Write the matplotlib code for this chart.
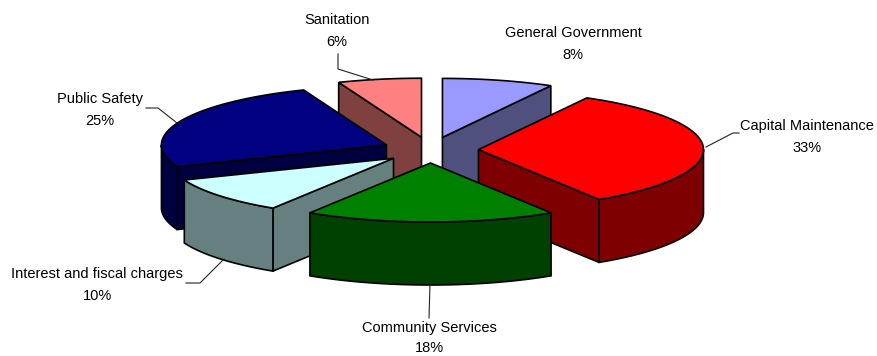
import numpy as np
import matplotlib
matplotlib.use("Agg")
import matplotlib.pyplot as plt
from matplotlib.patches import Polygon

categories = ["General Government", "Capital Maintenance", "Community Services",
              "Interest and fiscal charges", "Public Safety", "Sanitation"]
percent = [8, 33, 18, 10, 25, 6]
top_colors = ["#9999FF", "#FF0000", "#008000", "#CCFFFF", "#000080", "#FF8080"]
wall_colors = ["#50507F", "#7F0000", "#004000", "#668080", "#000040", "#7F4040"]

# back slices first, front slices last
draw_order = [5, 0, 4, 1, 3, 2]

# label centres and leader lines, in pixels
label_pos = [(573, 33), (807, 126), (429, 328), (97, 274), (100, 99), (337, 20)]
pct_gap = [22, 22, 20, 22, 22, 22]
leaders = [
    None,
    [(706, 147), (733, 133), (739, 133)],
    [(430, 284), (429, 318)],
    [(224, 259), (200, 283), (186, 283)],
    [(177, 123), (158, 108), (146, 108)],
    [(373, 80), (338, 69), (338, 54)],
]

cx, cy = 430.5, 150    # pie centre
rx, ry = 225, 59       # ellipse radii
depth = 63             # wall height
ex, ey = 48, 13        # how far slices are pulled out

fig = plt.figure(figsize=(8.77, 3.56), dpi=100)
ax = fig.add_axes([0, 0, 1, 1])
ax.set_xlim(0, 877)
ax.set_ylim(356, 0)
ax.axis("off")


def rim(ax0, ay0, a0, a1):
    # points on the rim, angle runs clockwise from 12 o'clock
    a = np.linspace(a0, a1, 80)
    return ax0 + rx * np.sin(a), ay0 - ry * np.cos(a)


def face(xs, ys, color):
    pts = np.column_stack([xs, ys])
    ax.add_patch(Polygon(pts, closed=True, facecolor=color, edgecolor="black",
                         linewidth=1.2, joinstyle="miter"))


edges = 2 * np.pi * np.cumsum([0] + percent) / sum(percent)

for i in draw_order:
    a0, a1 = edges[i], edges[i + 1]
    mid = (a0 + a1) / 2
    ax0 = cx + ex * np.sin(mid)
    ay0 = cy - ey * np.cos(mid)
    xs, ys = rim(ax0, ay0, a0, a1)

    # radial walls, only the ones turned towards the viewer
    if np.pi < a0 < 2 * np.pi:
        face([ax0, xs[0], xs[0], ax0], [ay0, ys[0], ys[0] + depth, ay0 + depth], wall_colors[i])
    if 0 < a1 < np.pi:
        face([ax0, xs[-1], xs[-1], ax0], [ay0, ys[-1], ys[-1] + depth, ay0 + depth], wall_colors[i])

    # outer wall, only the part facing the viewer
    lo, hi = max(a0, np.pi / 2), min(a1, 3 * np.pi / 2)
    if lo < hi:
        wx, wy = rim(ax0, ay0, lo, hi)
        face(np.r_[wx, wx[::-1]], np.r_[wy, wy[::-1] + depth], wall_colors[i])

    # top
    face(np.r_[ax0, xs], np.r_[ay0, ys], top_colors[i])

for name, pct, gap, (lx, ly), line in zip(categories, percent, pct_gap, label_pos, leaders):
    ax.text(lx, ly, name, ha="center", va="center", fontsize=10.5,
            family=["Liberation Sans", "DejaVu Sans"], color="black")
    ax.text(lx, ly + gap, f"{pct}%", ha="center", va="center", fontsize=10.5,
            family=["Liberation Sans", "DejaVu Sans"], color="black")
    if line:
        ax.plot([p[0] for p in line], [p[1] for p in line], color="#222222", linewidth=0.8)

fig.savefig("out.png", dpi=100)
